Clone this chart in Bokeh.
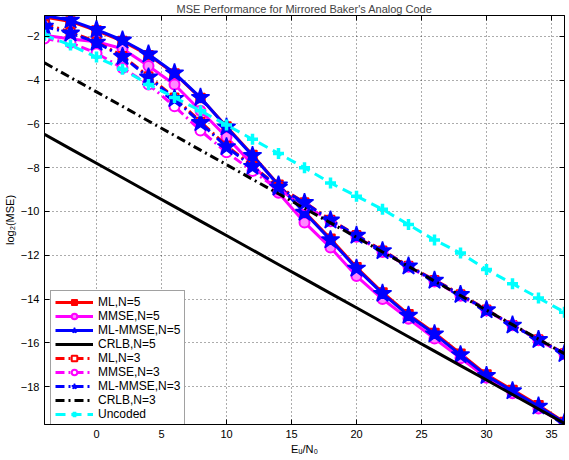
from bokeh.plotting import figure
from bokeh.models import (Range1d, FixedTicker, CustomJSTickFormatter, LinearAxis,
                          Legend, LegendItem)
from bokeh.embed import file_html
from bokeh.resources import INLINE

# ---- data ----
snr_db = [-4, -2, 0, 2, 4, 6, 8, 10, 12, 14, 16, 18, 20, 22, 24, 26, 28, 30, 32, 34, 36]

ml_n5 = [-1.12, -1.32, -1.74, -2.22, -2.86, -3.70, -4.82, -6.12, -7.42, -8.78, -10.02,
         -11.25, -12.55, -13.70, -14.70, -15.55, -16.50, -17.45, -18.15, -18.85, -19.62]
mmse_n5 = [-1.95, -2.12, -2.25, -2.57, -3.36, -4.20, -5.40, -6.60, -7.85, -9.15, -10.50,
           -11.65, -12.95, -14.00, -14.90, -15.80, -16.70, -17.60, -18.30, -19.00, -19.70]
mlmmse_n5 = [-1.05, -1.27, -1.70, -2.18, -2.82, -3.68, -4.80, -6.15, -7.45, -8.80, -10.05,
             -11.30, -12.60, -13.75, -14.75, -15.60, -16.55, -17.50, -18.20, -18.90, -19.65]
crlb_n5 = [-6.48, -7.14, -7.80, -8.46, -9.12, -9.78, -10.44, -11.10, -11.76, -12.42, -13.08,
           -13.74, -14.40, -15.06, -15.72, -16.38, -17.04, -17.70, -18.36, -19.02, -19.68]
ml_n3 = [-1.45, -1.80, -2.25, -2.90, -3.82, -4.80, -5.90, -7.00, -7.92, -8.88, -9.58,
         -10.38, -11.08, -11.78, -12.48, -13.13, -13.78, -14.48, -15.18, -15.84, -16.48]
mmse_n3 = [-2.10, -2.30, -2.77, -3.45, -4.20, -5.20, -6.30, -7.30, -8.15, -9.00, -9.70,
           -10.45, -11.15, -11.85, -12.52, -13.20, -13.85, -14.52, -15.20, -15.88, -16.52]
mlmmse_n3 = [-1.55, -1.86, -2.28, -2.93, -3.87, -4.85, -5.95, -7.05, -7.95, -8.90, -9.60,
             -10.40, -11.10, -11.80, -12.50, -13.15, -13.80, -14.50, -15.20, -15.86, -16.50]
crlb_n3 = [-3.21, -3.88, -4.54, -5.20, -5.87, -6.53, -7.20, -7.86, -8.53, -9.19, -9.86,
           -10.52, -11.18, -11.85, -12.51, -13.18, -13.84, -14.51, -15.17, -15.83, -16.50]
uncoded = [-1.95, -2.40, -2.95, -3.50, -4.20, -4.80, -5.40, -6.05, -6.70, -7.35, -8.00,
           -8.70, -9.30, -9.90, -10.60, -11.30, -11.90, -12.65, -13.30, -13.95, -14.60]

x_ticks = [0, 5, 10, 15, 20, 25, 30, 35]
y_ticks = [-18, -16, -14, -12, -10, -8, -6, -4, -2]

title_text = "MSE Performance for Mirrored Baker's Analog Code"
x_label = "E\u1d64/N\u2080"
y_label = "log\u2082(MSE)"

FONT = "Liberation Sans"

p = figure(frame_width=520, frame_height=409,
           x_range=Range1d(-4, 36), y_range=Range1d(-19.73, -1.05),
           output_backend="svg", toolbar_location=None, title=title_text,
           min_border_left=0, min_border_right=2, min_border_top=0, min_border_bottom=0,
           background_fill_color="white", border_fill_color="white")

p.title.align = "center"
p.title.text_font = FONT
p.title.text_font_size = "11px"
p.title.text_font_style = "normal"
p.title.standoff = 1

p.outline_line_color = "black"
p.outline_line_width = 1
p.outline_line_alpha = 1

minus_fmt = "return tick < 0 ? '\\u2212' + (-tick) : '' + tick;"

for ax, ticks in ((p.xaxis[0], x_ticks), (p.yaxis[0], y_ticks)):
    ax.ticker = FixedTicker(ticks=ticks)
    ax.formatter = CustomJSTickFormatter(code=minus_fmt)
    ax.major_tick_in = 5
    ax.major_tick_out = 0
    ax.minor_tick_line_color = None
    ax.axis_line_color = "black"
    ax.major_tick_line_color = "black"
    ax.major_label_text_font = FONT
    ax.major_label_text_font_size = "11px"
    ax.major_label_text_color = "black"
    ax.axis_label_text_font = FONT
    ax.axis_label_text_font_size = "11px"
    ax.axis_label_text_font_style = "normal"
    ax.axis_label_text_color = "black"
    ax.major_label_standoff = 5
    ax.axis_label_standoff = 2

p.xaxis[0].axis_label = x_label
p.yaxis[0].axis_label = y_label

# box ticks on top and right
top_ax = LinearAxis(ticker=FixedTicker(ticks=x_ticks),
                    formatter=CustomJSTickFormatter(code="return '';"),
                    major_tick_in=5, major_tick_out=0, minor_tick_line_color=None,
                    major_label_standoff=0, major_label_text_font_size="0px",
                    axis_line_color="black")
right_ax = LinearAxis(ticker=FixedTicker(ticks=y_ticks),
                      formatter=CustomJSTickFormatter(code="return '';"),
                      major_tick_in=5, major_tick_out=0, minor_tick_line_color=None,
                      major_label_standoff=0, major_label_text_font_size="0px",
                      axis_line_color="black")
p.add_layout(top_ax, "above")
p.add_layout(right_ax, "right")

p.xgrid.ticker = FixedTicker(ticks=x_ticks)
p.ygrid.ticker = FixedTicker(ticks=y_ticks)
for g in (p.xgrid[0], p.ygrid[0]):
    g.grid_line_color = "black"
    g.grid_line_alpha = 0.65
    g.grid_line_dash = "1 3"
    g.grid_line_width = 1

items = []


def series(y, color, dash, marker, msize, mfill, label, lw=3, mlw=1.5):
    rs = [p.line(snr_db, y, line_color=color, line_width=lw, line_dash=dash)]
    if marker is not None:
        rs.append(p.scatter(snr_db, y, marker=marker, size=msize, line_color=color,
                            fill_color=mfill, line_width=mlw))
    items.append(LegendItem(label=label, renderers=rs))


DD = "9 4 2 4"
series(ml_n5, "#ff0000", "solid", "square", 9, "#ff0000", "ML,N=5")
series(mmse_n5, "#ff00ff", "solid", "circle", 10, "#ff88ff", "MMSE,N=5", mlw=2)
series(mlmmse_n5, "#0000ff", "solid", "star", 19, "#0000ff", "ML-MMSE,N=5")
series(crlb_n5, "#000000", "solid", None, 0, None, "CRLB,N=5")
series(ml_n3, "#ff0000", DD, "square", 8, "white", "ML,N=3", mlw=2)
series(mmse_n3, "#ff00ff", DD, "circle", 10, "white", "MMSE,N=3", mlw=2)
series(mlmmse_n3, "#0000ff", DD, "star", 19, "#0000ff", "ML-MMSE,N=3")
series(crlb_n3, "#000000", DD, None, 0, None, "CRLB,N=3")
series(uncoded, "#00ffff", "10 6", "cross", 11, None, "Uncoded", mlw=3.5)

legend = Legend(items=items, location=(6, -2))
legend.border_line_color = "#444444"
legend.border_line_width = 1
legend.background_fill_color = "white"
legend.background_fill_alpha = 1
legend.padding = 4
legend.spacing = 0
legend.margin = 0
legend.glyph_width = 38
legend.glyph_height = 14
legend.label_height = 14
legend.label_standoff = 5
legend.label_text_font = FONT
legend.label_text_font_size = "12px"
legend.label_text_color = "black"
p.add_layout(legend)

open("out.html", "w").write(file_html(p, INLINE))
